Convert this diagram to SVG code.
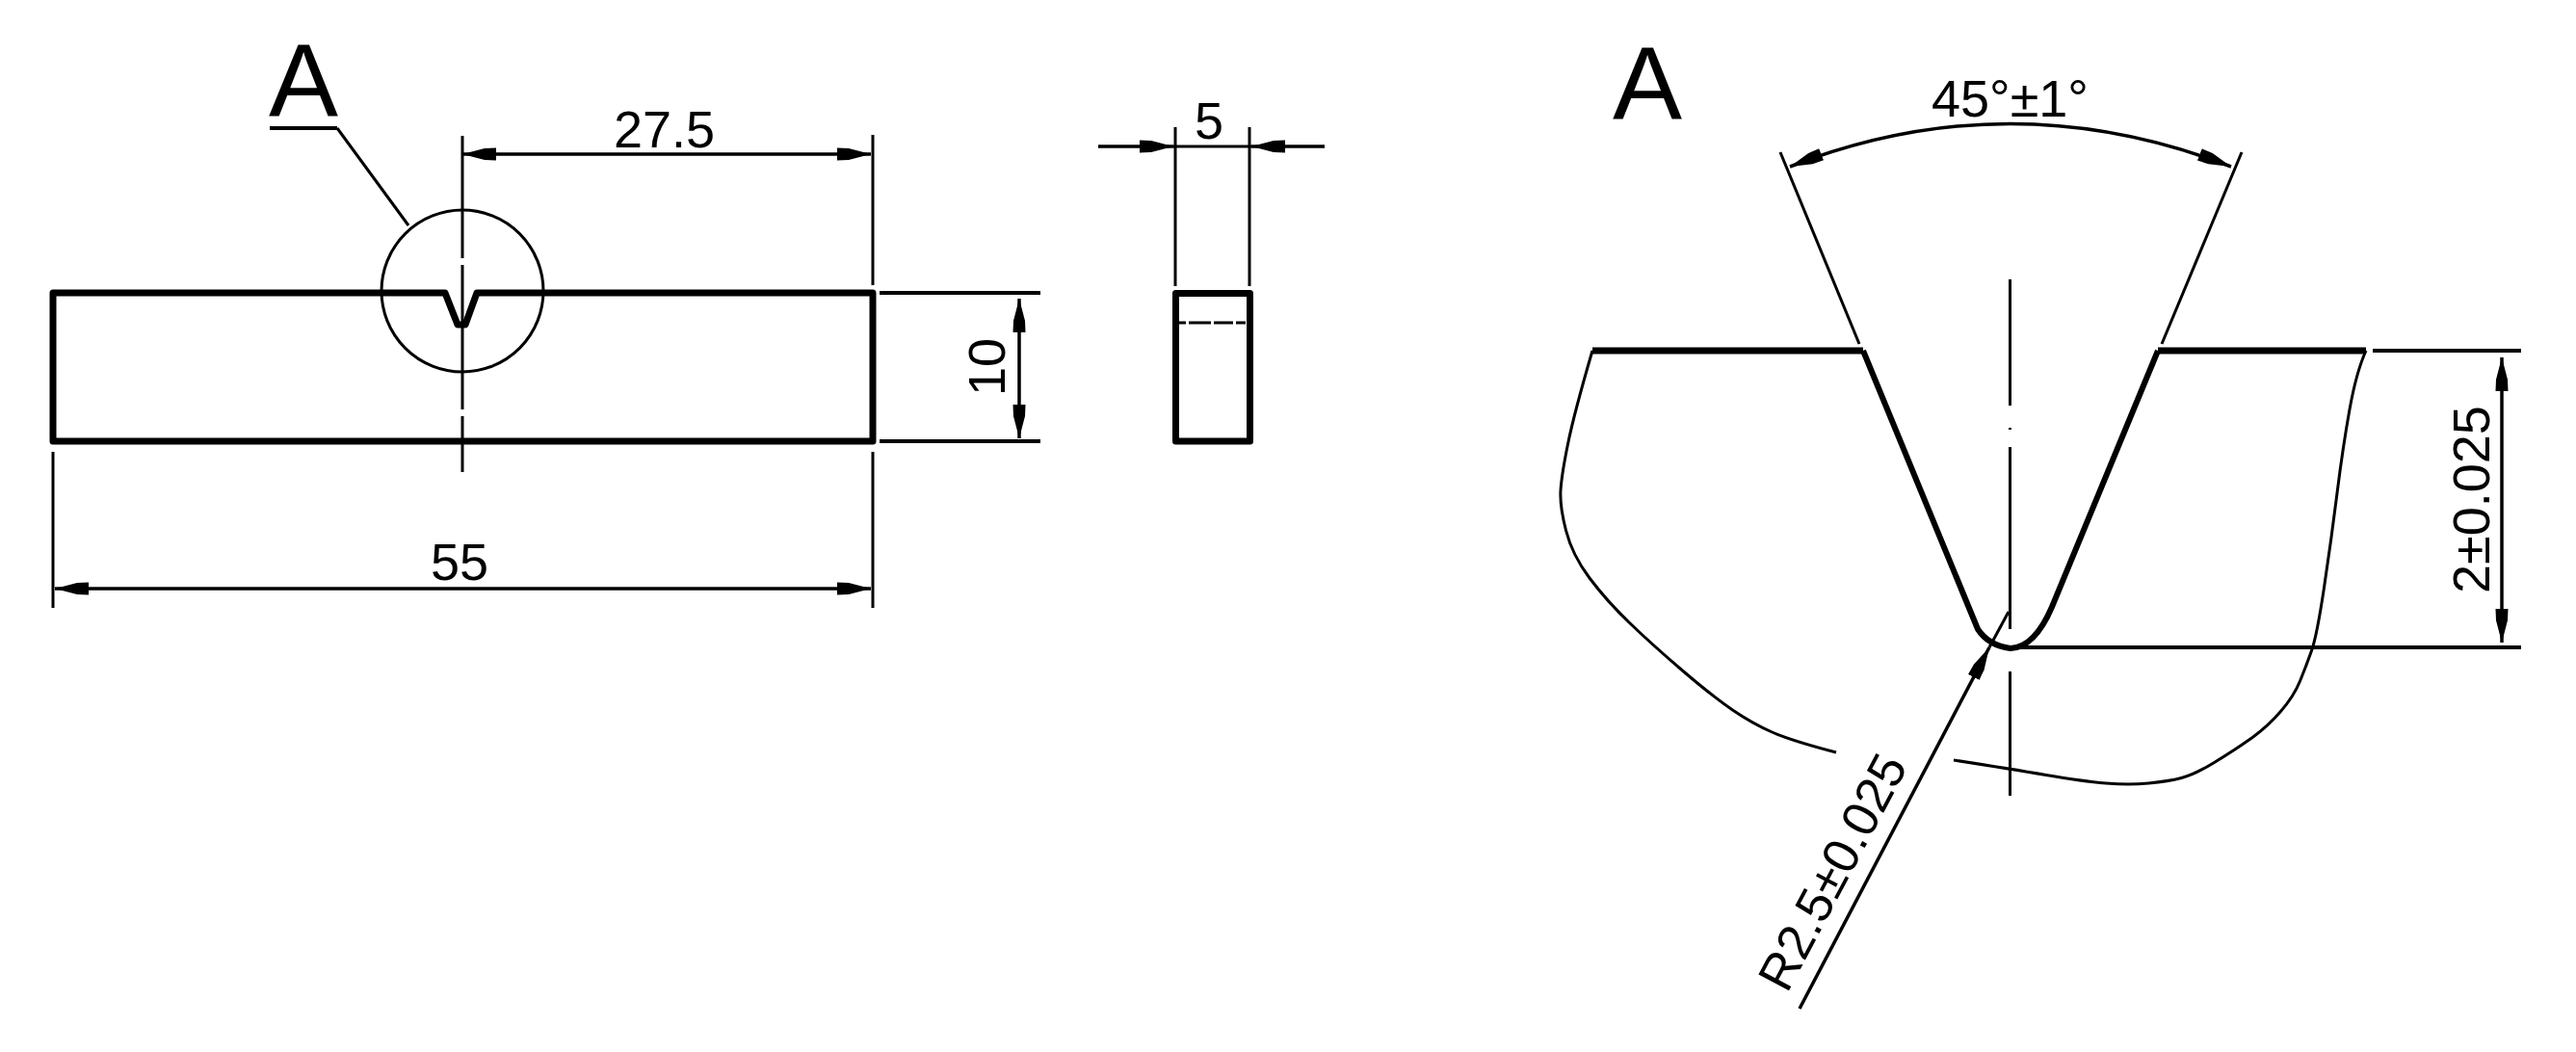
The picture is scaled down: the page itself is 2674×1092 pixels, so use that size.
<svg xmlns="http://www.w3.org/2000/svg" width="2674" height="1092" viewBox="0 0 2674 1092">
<style>
.t{fill:#000;font-family:"Liberation Sans",Arial,sans-serif;font-size:54px}
.big{font-size:108px}
.thin{stroke:#000;stroke-width:3;fill:none;stroke-linejoin:round}
.mid{stroke:#000;stroke-width:4;fill:none}
.thick{stroke:#000;stroke-width:7;fill:none;stroke-linejoin:round}
.notch{stroke:#000;stroke-width:6;fill:none;stroke-linejoin:round}
.dim{stroke:#000;stroke-width:3.5;fill:none;marker-end:url(#a);marker-start:url(#a)}
.one{stroke:#000;stroke-width:3.5;fill:none;marker-end:url(#a)}
</style>
<defs>
<marker id="a" markerUnits="userSpaceOnUse" viewBox="0 0 35 14" refX="35" refY="7" markerWidth="35" markerHeight="14" orient="auto-start-reverse">
<path d="M0,0.5 L12,1 L35,7 L12,13 L0,13.5 Z" fill="#000"/>
</marker>
</defs>
<rect width="2674" height="1092" fill="#fff"/>

<g id="front-view">
<path class="thick" d="M55,304 H462 L475,337 H483 L495,304 H906 V458 H55 Z"/>
<circle class="thin" cx="480" cy="302" r="84"/>
<path class="thin" d="M480,141 V268 M480,275 V425 M480,432 V490"/>
<path class="thin" d="M350,133 L424,234"/>
<path class="mid" d="M280,133 H350"/>
<text class="t big" x="279" y="121">A</text>
</g>

<g id="side-view">
<rect class="thick" x="1220.5" y="304.5" width="77" height="153.5"/>
<path class="thin" d="M1224,335 H1231 M1234,335 H1257 M1260,335 H1280 M1283,335 H1293"/>
</g>

<g id="detail-view">
<path class="thick" d="M1653,364 H1934 M2240,364 H2456"/>
<path class="notch" d="M1934,364 L2053,653 Q2064,670 2087,673 Q2112,672 2130,630 L2240,364"/>
<path class="thin" d="M1653,364 Q1634,429 1627.5,461 Q1621,493 1620,509 Q1619,525 1625.5,550.5 Q1632,576 1650,600 Q1668,624 1692,647 Q1716,670 1747,696.5 Q1778,723 1798.5,737 Q1819,751 1839.5,760 Q1860,769 1906,781"/>
<path class="thin" d="M2456,364 Q2446,386 2439,425 Q2432,464 2426,512 Q2420,560 2412.5,610 Q2405,660 2399.5,675.5 Q2394,691 2387.5,707 Q2381,723 2367,739 Q2353,755 2336,767 Q2319,779 2298.5,791.5 Q2278,804 2264.5,807.5 Q2251,811 2230.5,813 Q2210,815 2186,813 Q2162,811 2124,804.5 Q2086,798 2028,789"/>
<path class="thin" d="M2086.5,290 V421 M2086.5,444 V446 M2086.5,464 V653 M2086.5,697 V826"/>
<text class="t big" x="1674" y="124">A</text>
</g>

<g id="connectors">
<path class="thin" d="M906,140 V296 M55,469 V631 M906,469 V631"/>
<line class="dim" x1="480" y1="160" x2="904" y2="160"/>
<line class="dim" x1="57" y1="611" x2="904" y2="611"/>
<path class="mid" d="M913,304 H1080 M913,458 H1080"/>
<line class="dim" x1="1058" y1="310" x2="1058" y2="455"/>
<path class="thin" d="M1220,132 V297 M1297,132 V297 M1218,152 H1299"/>
<line class="one" x1="1140" y1="152" x2="1218" y2="152"/>
<line class="one" x1="1375" y1="152" x2="1299" y2="152"/>
<path class="thin" d="M1848,158 L1930,357 M2327,158 L2244,357"/>
<path class="dim" d="M1858,173 Q2086,84 2316,173"/>
<path class="mid" d="M2463,364 H2617 M2093,672 H2617"/>
<line class="dim" x1="2597" y1="371" x2="2597" y2="667"/>
<path class="thin" d="M2065,672 L2085,635"/>
<path class="one" d="M1868,1047 L2065,672"/>
</g>

<g id="labels">
<text class="t" x="637" y="153">27.5</text>
<text class="t" x="447" y="602">55</text>
<text class="t" x="1240" y="144">5</text>
<text class="t" transform="translate(1043,411) rotate(-90)">10</text>
<text class="t" x="2005" y="121">45°±1°</text>
<text class="t" transform="translate(2584,616) rotate(-90)">2±0.025</text>
<text class="t" style="font-size:52px" transform="translate(1855,1032) rotate(-62)">R2.5±0.025</text>
</g>
</svg>
